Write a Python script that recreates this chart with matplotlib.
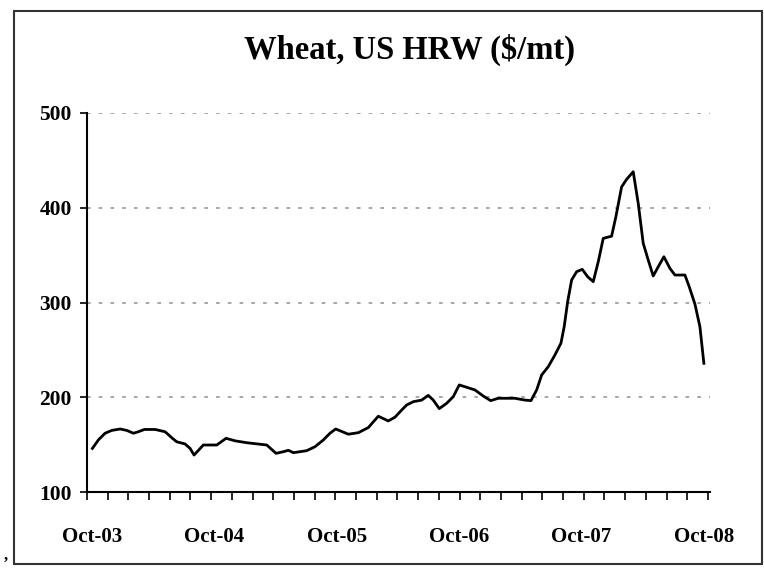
import matplotlib
matplotlib.use("Agg")
import matplotlib.pyplot as plt
import numpy as np
from matplotlib.patches import Rectangle

# months since Oct-2003 and price ($/mt)
months = [0.03, 0.62, 1.27, 1.93, 2.75, 3.40, 4.05, 4.54, 5.13, 6.18, 7.16, 7.87,
          8.30, 9.12, 9.61, 10.0, 10.91, 12.23, 13.14, 14.02, 15.17, 17.13, 18.04,
          18.75, 19.25, 19.74, 21.05, 21.86, 22.68, 23.33, 23.89, 25.13, 26.11,
          27.09, 28.07, 29.05, 29.71, 30.36, 30.85, 31.50, 32.32, 32.97, 33.46,
          34.05, 34.77, 35.42, 36.01, 36.74, 37.55, 38.36, 39.09, 39.83, 41.47,
          42.45, 43.04, 43.60, 44.09, 44.74, 45.39, 45.98, 46.30, 46.64, 47.03,
          47.52, 48.07, 48.60, 49.15, 49.64, 50.13, 50.95, 51.37, 51.93, 52.42,
          53.07, 53.56, 54.05, 54.54, 55.03, 55.62, 56.08, 56.67, 57.16, 58.14,
          58.56, 59.12, 59.61, 60.0]
prices = [146, 155, 162, 165, 166.5, 165, 162, 163.6, 166, 166, 163.6, 156.7,
          153, 150.7, 146, 139, 149.6, 149.6, 156.7, 154, 152, 149.6, 140.8,
          142.5, 144, 141.5, 143.6, 147.8, 154.9, 162, 166.5, 161, 162.6,
          168, 180, 175, 179, 186.5, 191.8, 195.3, 197, 202, 197,
          188, 193.6, 200.6, 213, 210.5, 207.7, 201.3, 196.4, 198.9, 198.9,
          197, 196.4, 207.7, 223.5, 232.3, 244.6, 257, 274.5, 300.8, 323.8,
          332.5, 335, 327.2, 322, 343, 367.7, 370, 390.6, 422, 430,
          438, 404.7, 362.5, 344.9, 328, 339.6, 348.3, 336, 329, 329,
          316.7, 298.4, 274.5, 235.8]

label_pos = [0, 12, 24, 36, 48, 60]
labels = ["Oct-03", "Oct-04", "Oct-05", "Oct-06", "Oct-07", "Oct-08"]
yticks = [100, 200, 300, 400, 500]

serif = ["Liberation Serif", "DejaVu Serif"]

fig = plt.figure(figsize=(7.64, 5.69), dpi=100)
ax = fig.add_axes([87 / 764, 1 - 492 / 569, (710 - 87) / 764, (492 - 113) / 569])

for y in yticks[1:]:
    ax.axhline(y, color="#a0a0a0", lw=1.3, ls=(0, (2, 4.5)), zorder=1)

ax.plot(months, prices, color="black", lw=2.0, zorder=3)

ax.set_xlim(-0.5, 60.6)
ax.set_ylim(100, 500)
ax.set_yticks(yticks)
ax.set_yticklabels([str(v) for v in yticks], family=serif, fontweight="bold", fontsize=15.5)
ax.set_xticks(label_pos)
ax.set_xticklabels(labels, family=serif, fontweight="bold", fontsize=15)
ax.set_xticks(np.arange(-0.5, 60.6, 2.03), minor=True)
ax.tick_params(axis="x", which="major", length=0, pad=25)
ax.tick_params(axis="x", which="minor", length=6, width=1.2, direction="out")
ax.tick_params(axis="y", length=5, width=1.2, pad=6)

for s in ["top", "right"]:
    ax.spines[s].set_visible(False)
for s in ["left", "bottom"]:
    ax.spines[s].set_linewidth(1.5)

fig.text(410 / 764, 1 - 50 / 569, "Wheat, US HRW ($/mt)", family=serif,
         fontweight="bold", fontsize=23.5, ha="center", va="center")

fig.patches.append(Rectangle((14 / 764, 1 - 564 / 569), (762 - 14) / 764, (564 - 11) / 569,
                             transform=fig.transFigure, fill=False, ec="#333333", lw=1.5))
fig.text(4 / 764, 1 - 556 / 569, ",", family=serif, fontweight="bold", fontsize=12,
         ha="left", va="center")

fig.savefig("out.png", dpi=100)
